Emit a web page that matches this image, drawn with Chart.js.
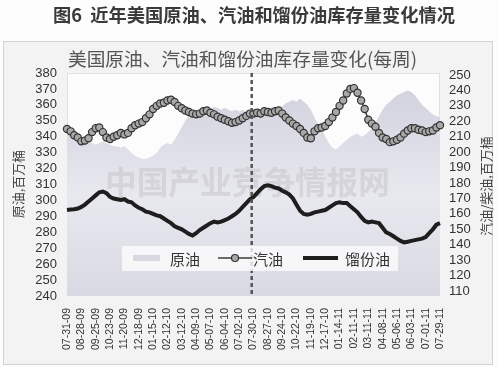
<!DOCTYPE html>
<html>
<head>
<meta charset="utf-8">
<script src="https://cdn.jsdelivr.net/npm/chart.js@4.4.1/dist/chart.umd.min.js"></script>
<style>
  html, body { margin: 0; padding: 0; background: #fff; }
  #wrap { width: 498px; height: 368px; }
</style>
</head>
<body>
<div id="wrap"><canvas id="myChart"></canvas></div>
<script>
// tick labels shown every 4 weeks
const tickLabels = ['07-31-09', '08-28-09', '09-25-09', '10-23-09', '11-20-09', '12-18-09', '01-15-10',
    '02-12-10', '03-12-10', '04-09-10', '05-07-10', '06-04-10', '07-02-10', '07-30-10', '08-27-10',
    '09-24-10', '10-22-10', '11-19-10', '12-17-10', '01-14-11', '02-11-11', '03-11-11', '04-08-11',
    '05-06-11', '06-03-11', '07-01-11', '07-29-11'];

// weekly stocks, million barrels
const crude = [348, 346, 344, 342, 339, 337, 336, 336, 335, 336, 337, 336, 335, 334, 334, 333, 334, 332, 330, 328,
    327, 326, 326, 327, 328, 330, 333, 335, 336, 335, 338, 342, 346, 350, 353, 355, 356, 357, 358, 358,
    357, 359, 358, 357, 358, 357, 356, 357, 356, 357, 355, 354, 356, 355, 356, 354, 355, 353, 355, 357,
    359, 361, 362, 363, 362, 364, 362, 360, 357, 352, 348, 345, 340, 336, 333, 332, 334, 336, 338, 340,
    341, 342, 340, 341, 343, 345, 349, 353, 357, 360, 362, 364, 366, 367, 368, 369, 368, 366, 363, 360,
    358, 356, 354, 353, 352];

const gasoline = [215, 213.5, 211, 209.5, 207, 207.5, 209, 213, 215.5, 216, 213, 209.5, 208.5, 210, 211, 212.5,
    211.5, 212.5, 215.5, 217.5, 218.5, 219.5, 222, 224.5, 228, 230, 231.5, 232, 233.5, 234, 232.5, 230,
    228.5, 227, 226, 225, 224.5, 225, 226.5, 227, 225.5, 224.5, 223, 222, 221, 220, 219, 219.5, 220.5,
    222, 223.5, 225, 225, 225.5, 225, 226.5, 226, 225.5, 226.5, 227, 225, 222.5, 220.5, 218.5, 217, 215,
    212.5, 209.5, 209, 213.5, 215.5, 216, 217, 219.5, 222.5, 226, 230, 233.5, 238, 241, 241.5, 238.5,
    233.5, 228, 221, 218.5, 216.5, 212.5, 209.5, 208.5, 206.5, 207, 208, 209.5, 212, 214, 215.5, 215.5,
    214.5, 214, 213, 213.5, 214, 216, 217.5];

const distillate = [162.5, 162.8, 163, 163.5, 164.5, 166, 168, 170, 172, 174, 174.5, 173.5, 171, 170, 169.5, 169,
    169.5, 168, 167.5, 165.5, 164, 163, 161.5, 161, 160, 159, 158.5, 157, 155.5, 154, 152, 151, 150, 148.5,
    147, 146, 147.5, 149.5, 151, 152.5, 154, 155, 154.5, 155, 156, 157, 158.5, 160, 162, 164.5, 167, 169.5,
    171, 173.5, 176, 178, 178.5, 178, 177, 176.5, 175, 174, 172.5, 170, 166, 162, 160, 159.5, 160, 161,
    161.5, 162, 162.5, 164, 165.5, 167, 167.5, 167, 167, 165, 163, 161, 158, 155.5, 154.5, 155, 154.5, 154,
    151, 148, 147, 145.5, 144, 142.5, 141.5, 142, 142.5, 143, 143.5, 144, 145, 147.5, 150, 153, 154];

const leftTicks = [240, 250, 260, 270, 280, 290, 300, 310, 320, 330, 340, 350, 360, 370, 380];
const rightTicks = [110, 120, 130, 140, 150, 160, 170, 180, 190, 200, 210, 220, 230, 240, 250];

// weekly dates starting 07-31-09
const weeks = crude.map((v, i) => {
    const d = new Date(2009, 6, 31 + 7 * i);
    const p = n => String(n).padStart(2, '0');
    return p(d.getMonth() + 1) + '-' + p(d.getDate()) + '-' + p(d.getFullYear() % 100);
});

const CJK = '"Noto Sans CJK SC", "Noto Sans", sans-serif';
const NUM = '"Liberation Sans", Arial, sans-serif';

function fitText(c, text, x, y, width, weight, color) {
    c.font = weight + ' 20px ' + CJK;
    const size = 20 * width / c.measureText(text).width;
    c.font = weight + ' ' + size.toFixed(2) + 'px ' + CJK;
    c.fillStyle = color;
    c.textAlign = 'left';
    c.textBaseline = 'middle';
    c.fillText(text, x, y);
}

const decor = {
    id: 'decor',
    beforeDraw(chart) {
        const c = chart.ctx;
        const a = chart.chartArea;
        c.save();
        c.fillStyle = '#fdfdfd';
        c.fillRect(0, 0, chart.width, chart.height);
        // frame
        c.fillStyle = '#f3f3f3';
        c.fillRect(3, 41, 490, 324);
        c.strokeStyle = '#d2d2d2';
        c.lineWidth = 1;
        c.strokeRect(3.5, 41.5, 489, 323);
        c.fillStyle = '#fcfcfc';
        c.fillRect(a.left, a.top, a.right - a.left, a.bottom - a.top);
        c.strokeStyle = '#e0e0e0';
        c.strokeRect(a.left + 0.5, a.top + 0.5, a.right - a.left - 1, a.bottom - a.top - 1);

        fitText(c, '图6  近年美国原油、汽油和馏份油库存量变化情况', 53, 15, 402, 'bold', '#3a3a3a');
        fitText(c, '美国原油、汽油和馏份油库存量变化(每周)', 68, 59, 349, 'normal', '#555');

        // axis titles
        c.fillStyle = '#444';
        c.font = '13px ' + CJK;
        c.textAlign = 'center';
        c.textBaseline = 'middle';
        c.save();
        c.translate(18, 184);
        c.rotate(-Math.PI / 2);
        c.fillText('原油,百万桶', 0, 0);
        c.restore();
        c.save();
        c.translate(486, 186);
        c.rotate(-Math.PI / 2);
        c.fillText('汽油/柴油,百万桶', 0, 0);
        c.restore();
        c.restore();
    },
    afterDatasetDraw(chart, args) {
        if (args.index !== 0) return;
        // watermark over the crude area
        const c = chart.ctx;
        c.save();
        fitText(c, '中国产业竞争情报网', 105, 182, 285, 'bold', 'rgba(185,185,185,0.38)');
        c.restore();
    },
    afterDatasetsDraw(chart) {
        const c = chart.ctx;
        const a = chart.chartArea;
        const x = chart.scales.x;
        c.save();
        // dashed divider
        const dx = (x.getPixelForValue(51) + x.getPixelForValue(52)) / 2;
        c.strokeStyle = '#555';
        c.lineWidth = 2.5;
        c.setLineDash([4, 3]);
        c.beginPath();
        c.moveTo(dx, a.top);
        c.lineTo(dx, a.bottom);
        c.stroke();
        c.setLineDash([]);

        // legend
        c.fillStyle = 'rgba(252,252,252,0.8)';
        c.fillRect(122, 246, 276, 25);
        const ly = 258;
        c.fillStyle = '#d8d8e2';
        c.fillRect(133, ly - 3, 27, 6);
        c.strokeStyle = '#3c3c3c';
        c.lineWidth = 1.5;
        c.beginPath();
        c.moveTo(218, ly);
        c.lineTo(252, ly);
        c.stroke();
        c.beginPath();
        c.arc(235, ly, 3.5, 0, Math.PI * 2);
        c.fillStyle = '#a8a8a8';
        c.fill();
        c.strokeStyle = '#333';
        c.lineWidth = 1.2;
        c.stroke();
        c.strokeStyle = '#1e1e1e';
        c.lineWidth = 4;
        c.beginPath();
        c.moveTo(303, ly);
        c.lineTo(338, ly);
        c.stroke();
        c.fillStyle = '#333';
        c.font = '15px ' + CJK;
        c.textAlign = 'left';
        c.textBaseline = 'middle';
        c.fillText('原油', 170, ly + 1);
        c.fillText('汽油', 253, ly + 1);
        c.fillText('馏份油', 345, ly + 1);
        c.restore();
    }
};

const ctx = document.getElementById('myChart');

new Chart(ctx, {
    type: 'line',
    data: {
        labels: weeks,
        datasets: [{
            label: '原油',
            data: crude,
            yAxisID: 'y',
            order: 3,
            fill: 'start',
            backgroundColor: (context) => {
                const a = context.chart.chartArea;
                if (!a) return '#dcdce6';
                const g = context.chart.ctx.createLinearGradient(0, a.top, 0, a.bottom);
                g.addColorStop(0, '#cfcfdd');
                g.addColorStop(0.55, '#e8e8ef');
                g.addColorStop(1, '#d9d9e3');
                return g;
            },
            borderWidth: 0,
            pointRadius: 0,
            tension: 0
        }, {
            label: '汽油',
            data: gasoline,
            yAxisID: 'y1',
            order: 1,
            borderColor: '#3c3c3c',
            borderWidth: 1.5,
            pointRadius: 3.6,
            pointBackgroundColor: '#a8a8a8',
            pointBorderColor: '#333',
            pointBorderWidth: 1.2,
            tension: 0
        }, {
            label: '馏份油',
            data: distillate,
            yAxisID: 'y1',
            order: 2,
            borderColor: '#1e1e1e',
            borderWidth: 4,
            pointRadius: 0,
            tension: 0
        }]
    },
    options: {
        responsive: true,
        maintainAspectRatio: false,
        animation: false,
        layout: { padding: { top: 73, left: 0, right: 0, bottom: 0 } },
        plugins: {
            legend: { display: false },
            tooltip: { enabled: false }
        },
        scales: {
            x: {
                offset: false,
                grid: { display: false, drawTicks: false },
                border: { display: false },
                ticks: {
                    autoSkip: false,
                    minRotation: 90,
                    maxRotation: 90,
                    padding: 12,
                    color: '#333',
                    font: { family: NUM, size: 10.5 },
                    callback: (v, i) => i % 4 === 0 ? tickLabels[i / 4] : ''
                },
                afterFit: s => { s.height = 72; }
            },
            y: {
                position: 'left',
                min: 240,
                max: 380,
                grid: { display: false, drawTicks: false },
                border: { display: false },
                ticks: { autoSkip: false, padding: 10, color: '#333', font: { family: NUM, size: 13 } },
                afterBuildTicks: s => { s.ticks = leftTicks.map(v => ({ value: v })); },
                afterFit: s => { s.width = 67; }
            },
            y1: {
                position: 'right',
                min: 106.8,
                max: 251.3,
                grid: { display: false, drawTicks: false },
                border: { display: false },
                ticks: { autoSkip: false, padding: 9, color: '#333', font: { family: NUM, size: 13 } },
                afterBuildTicks: s => { s.ticks = rightTicks.map(v => ({ value: v })); },
                afterFit: s => { s.width = 58; }
            }
        }
    },
    plugins: [decor]
});
</script>
</body>
</html>
